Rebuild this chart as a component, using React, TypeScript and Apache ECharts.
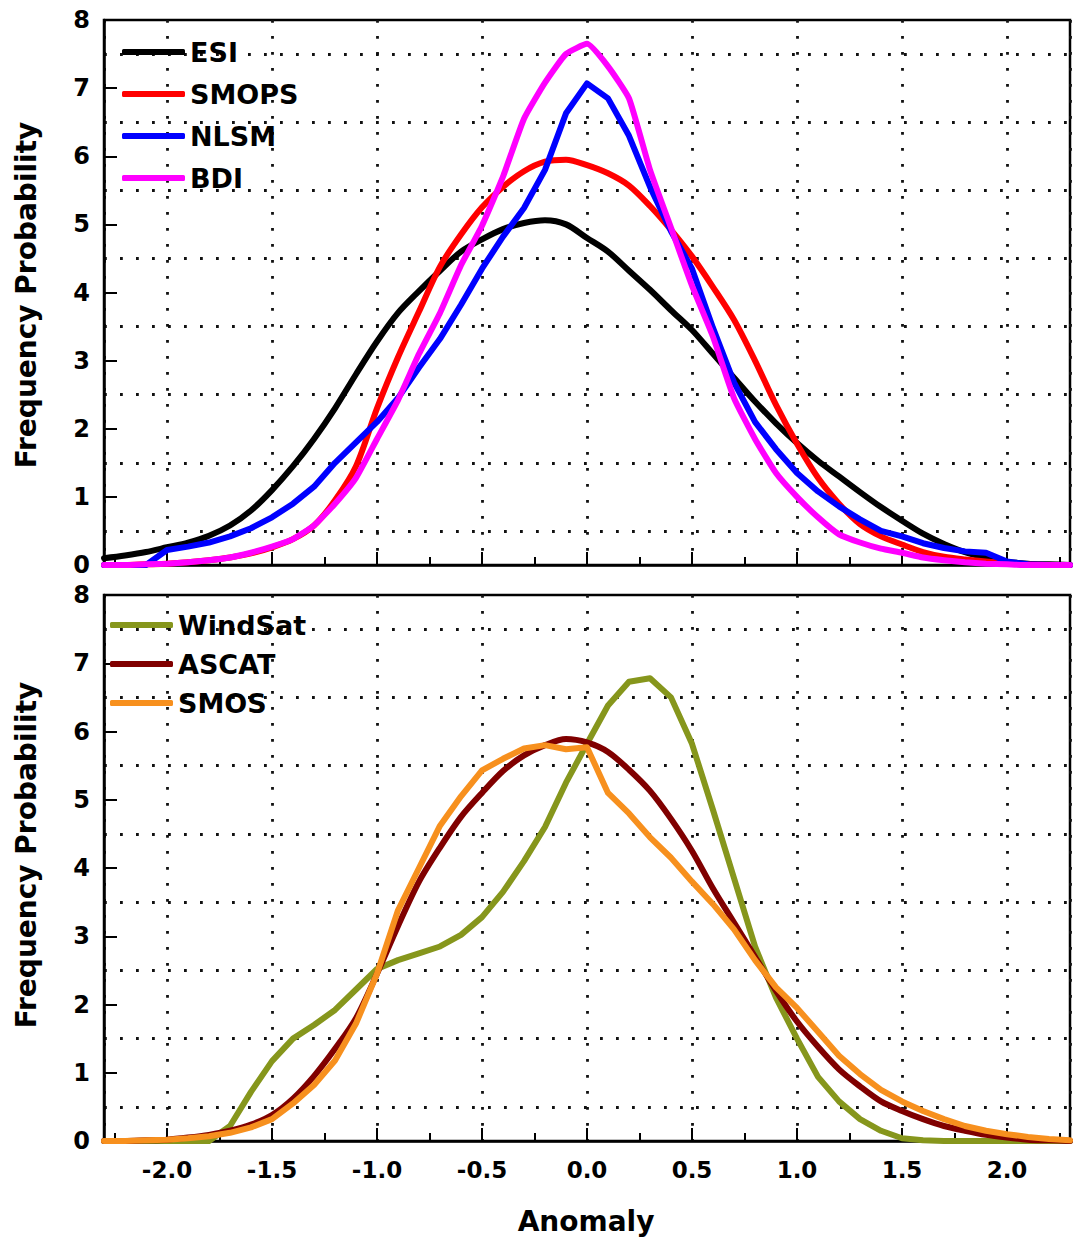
import React, { useEffect, useRef } from "react";
import * as echarts from "echarts";

// Anomaly values (x), step 0.1
const anomaly = [
  -2.3, -2.2, -2.1, -2.0, -1.9, -1.8, -1.7, -1.6, -1.5, -1.4, -1.3, -1.2, -1.1, -1.0,
  -0.9, -0.8, -0.7, -0.6, -0.5, -0.4, -0.3, -0.2, -0.1, 0.0, 0.1, 0.2, 0.3, 0.4, 0.5,
  0.6, 0.7, 0.8, 0.9, 1.0, 1.1, 1.2, 1.3, 1.4, 1.5, 1.6, 1.7, 1.8, 1.9, 2.0, 2.1, 2.2, 2.3,
];

// Top panel
const esi = [
  0.10, 0.14, 0.19, 0.26, 0.33, 0.43, 0.58, 0.80, 1.10, 1.45, 1.85, 2.30, 2.80, 3.28,
  3.70, 4.02, 4.32, 4.60, 4.78, 4.93, 5.02, 5.06, 5.00, 4.80, 4.60, 4.32, 4.04, 3.74, 3.45,
  3.10, 2.75, 2.40, 2.08, 1.79, 1.53, 1.30, 1.07, 0.85, 0.65, 0.46, 0.31, 0.19, 0.11, 0.05, 0.02, 0.01, 0.0,
];
const smops = [
  0.0, 0.0, 0.01, 0.02, 0.04, 0.07, 0.11, 0.17, 0.26, 0.38, 0.58, 0.95, 1.45, 2.30,
  3.05, 3.72, 4.38, 4.85, 5.25, 5.55, 5.78, 5.92, 5.95, 5.87, 5.75, 5.57, 5.27, 4.92, 4.53,
  4.08, 3.60, 3.00, 2.35, 1.78, 1.28, 0.90, 0.60, 0.42, 0.30, 0.19, 0.12, 0.08, 0.05, 0.03, 0.01, 0.0, 0.0,
];
const nlsm = [
  0.0, 0.0, 0.0, 0.22, 0.27, 0.33, 0.42, 0.54, 0.70, 0.90, 1.15, 1.50, 1.80, 2.10,
  2.45, 2.90, 3.32, 3.82, 4.35, 4.82, 5.24, 5.80, 6.63, 7.07, 6.85, 6.30, 5.55, 4.90, 4.35,
  3.48, 2.68, 2.10, 1.70, 1.35, 1.08, 0.86, 0.67, 0.50, 0.42, 0.32, 0.25, 0.20, 0.18, 0.05, 0.01, 0.0, 0.0,
];
const bdi = [
  0.0, 0.0, 0.01, 0.02, 0.04, 0.07, 0.11, 0.18, 0.27, 0.38, 0.58, 0.90, 1.28, 1.85,
  2.42, 3.10, 3.70, 4.40, 4.98, 5.70, 6.55, 7.08, 7.50, 7.65, 7.32, 6.85, 5.80, 4.95, 4.10,
  3.35, 2.45, 1.85, 1.35, 1.00, 0.70, 0.45, 0.33, 0.24, 0.18, 0.11, 0.07, 0.04, 0.02, 0.01, 0.0, 0.0, 0.0,
];

// Bottom panel
const windsat = [
  0.0, 0.0, 0.0, 0.0, 0.0, 0.0, 0.22, 0.72, 1.17, 1.50, 1.70, 1.92, 2.22, 2.52,
  2.65, 2.75, 2.85, 3.02, 3.28, 3.65, 4.10, 4.60, 5.25, 5.82, 6.38, 6.73, 6.78, 6.50, 5.82,
  4.85, 3.85, 2.85, 2.10, 1.50, 0.94, 0.58, 0.32, 0.15, 0.04, 0.01, 0.0, 0.0, 0.0, 0.0, 0.0, 0.0, 0.0,
];
const ascat = [
  0.0, 0.0, 0.01, 0.02, 0.05, 0.09, 0.15, 0.24, 0.38, 0.62, 0.95, 1.35, 1.80, 2.45,
  3.15, 3.80, 4.30, 4.75, 5.10, 5.42, 5.65, 5.80, 5.89, 5.84, 5.70, 5.44, 5.13, 4.72, 4.25,
  3.70, 3.20, 2.70, 2.20, 1.75, 1.38, 1.05, 0.80, 0.58, 0.44, 0.32, 0.22, 0.15, 0.09, 0.05, 0.02, 0.01, 0.0,
];
const smos = [
  0.0, 0.0, 0.01, 0.02, 0.04, 0.07, 0.12, 0.20, 0.32, 0.55, 0.82, 1.18, 1.72, 2.45,
  3.38, 4.00, 4.62, 5.05, 5.43, 5.60, 5.75, 5.80, 5.74, 5.77, 5.10, 4.80, 4.45, 4.15, 3.80,
  3.47, 3.10, 2.65, 2.25, 1.95, 1.60, 1.25, 0.98, 0.75, 0.58, 0.44, 0.32, 0.22, 0.15, 0.10, 0.06, 0.03, 0.01,
];

const topNames = ["ESI", "SMOPS", "NLSM", "BDI"];
const topColors = ["#000000", "#ff0000", "#0000ff", "#ff00ff"];
const topSmooth = [0.3, 0.3, 0, 0.15];
const bottomNames = ["WindSat", "ASCAT", "SMOS"];
const bottomColors = ["#86961c", "#800000", "#f7901e"];
const bottomSmooth = [0, 0.3, 0];

const FONT = "DejaVu Sans";

function pairs(ys: number[]) {
  return anomaly.map((x, i) => [x, ys[i]]);
}

const dotted = { color: "#111", width: 2.8, type: [2.8, 13.2] as any };

function makeX(gridIndex: number, showLabel: boolean) {
  return {
    type: "value",
    gridIndex,
    min: -2.3,
    max: 2.3,
    splitNumber: 9,
    axisLine: { show: true, onZero: false, lineStyle: { color: "#000", width: 2.5 } },
    axisTick: { show: true, inside: true, length: 13, lineStyle: { color: "#000", width: 2 } },
    minorTick: { show: true, splitNumber: 2, length: 8, lineStyle: { color: "#000", width: 2 } },
    splitLine: { show: true, lineStyle: dotted },
    minorSplitLine: { show: false },
    axisLabel: {
      show: showLabel,
      showMinLabel: false,
      showMaxLabel: false,
      formatter: (v: number) => v.toFixed(1),
      fontSize: 23,
      fontWeight: "bold",
      fontFamily: FONT,
      color: "#000",
      margin: 17,
    },
  };
}

function makeY(gridIndex: number) {
  return {
    type: "value",
    gridIndex,
    min: 0,
    max: 8,
    interval: 1,
    axisLine: { show: true, onZero: false, lineStyle: { color: "#000", width: 2.5 } },
    axisTick: { show: true, inside: true, length: 13, lineStyle: { color: "#000", width: 2 } },
    minorTick: { show: false, splitNumber: 2 },
    splitLine: { show: false },
    minorSplitLine: { show: true, lineStyle: dotted },
    axisLabel: {
      fontSize: 24,
      fontWeight: "bold",
      fontFamily: FONT,
      color: "#000",
      margin: 14,
    },
  };
}

function makeSeries(names: string[], colors: string[], smooths: number[], datas: number[][], idx: number) {
  return names.map((name, i) => ({
    name,
    type: "line",
    xAxisIndex: idx,
    yAxisIndex: idx,
    data: pairs(datas[i]),
    showSymbol: false,
    symbol: "none",
    clip: false,
    smooth: smooths[i] || false,
    color: colors[i],
    itemStyle: { color: colors[i] },
    lineStyle: { color: colors[i], width: 6, join: "round", cap: "round" },
    z: 3 + i,
  }));
}

const legendText = {
  fontSize: 27,
  fontWeight: "bold",
  fontFamily: FONT,
  color: "#000",
  lineHeight: 30,
};

export default function App() {
  const ref = useRef<HTMLDivElement>(null);
  useEffect(() => {
    if (!ref.current) return;
    const chart = echarts.init(ref.current, undefined, { renderer: "svg" });
    const titleStyle = {
      fontSize: 28,
      fontWeight: "bold",
      fontFamily: FONT,
      fill: "#000",
      align: "center",
      verticalAlign: "middle",
      textAlign: "center",
      textVerticalAlign: "middle",
    };
    chart.setOption({
      animation: false,
      backgroundColor: "#ffffff",
      grid: [
        { left: 104, top: 20, width: 966, height: 545, show: true, borderColor: "#000", borderWidth: 2.5, backgroundColor: "transparent" },
        { left: 104, top: 595, width: 966, height: 546, show: true, borderColor: "#000", borderWidth: 2.5, backgroundColor: "transparent" },
      ],
      xAxis: [makeX(0, false), makeX(1, true)],
      yAxis: [makeY(0), makeY(1)],
      legend: [
        {
          data: topNames,
          orient: "vertical",
          left: 122,
          top: 37,
          padding: 0,
          itemWidth: 63,
          itemHeight: 6,
          itemGap: 12,
          icon: "roundRect",
          textStyle: legendText,
        },
        {
          data: bottomNames,
          orient: "vertical",
          left: 110,
          top: 610,
          padding: 0,
          itemWidth: 63,
          itemHeight: 6,
          itemGap: 9,
          icon: "roundRect",
          textStyle: legendText,
        },
      ],
      graphic: [
        { type: "text", x: 26, y: 295, rotation: Math.PI / 2, style: { text: "Frequency Probability", ...titleStyle } },
        { type: "text", x: 26, y: 855, rotation: Math.PI / 2, style: { text: "Frequency Probability", ...titleStyle } },
        { type: "text", x: 586, y: 1221, style: { text: "Anomaly", ...titleStyle } },
      ],
      series: [
        ...makeSeries(topNames, topColors, topSmooth, [esi, smops, nlsm, bdi], 0),
        ...makeSeries(bottomNames, bottomColors, bottomSmooth, [windsat, ascat, smos], 1),
      ],
    });
    return () => chart.dispose();
  }, []);
  return (
    <div
      ref={ref}
      style={{ position: "absolute", left: 0, top: 0, width: 1075, height: 1239, background: "#fff" }}
    />
  );
}
